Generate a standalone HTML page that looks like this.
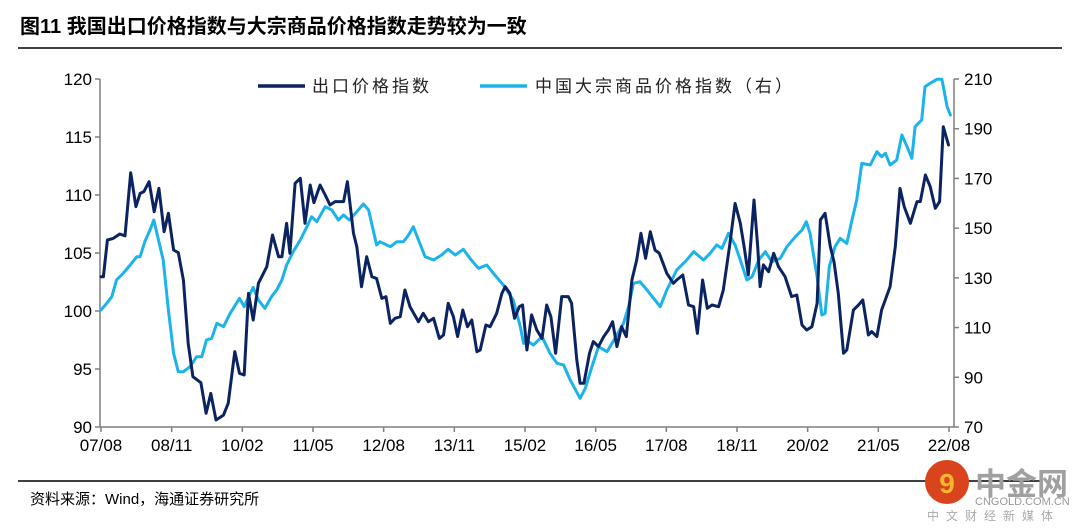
<!DOCTYPE html>
<html><head><meta charset="utf-8"><style>
body{margin:0;background:#fff;width:1080px;height:532px;overflow:hidden;font-family:"Liberation Sans","Noto Sans CJK SC",sans-serif;}
svg{display:block}
</style></head><body>
<svg width="1080" height="532" id="svg">
<text x="20" y="33" font-size="20" font-weight="bold" fill="#000" font-family="Liberation Sans, Noto Sans CJK SC, sans-serif">图11 我国出口价格指数与大宗商品价格指数走势较为一致</text>
<line x1="18" y1="48" x2="1062" y2="48" stroke="#000" stroke-width="1.5"/>
<line x1="18" y1="481" x2="1040" y2="481" stroke="#000" stroke-width="1.5"/>
<text x="30" y="504" font-size="15" fill="#000">资料来源：Wind，海通证券研究所</text>
<g id="axes"></g>
<g id="series"></g>
<g>
<line x1="258" y1="86" x2="305" y2="86" stroke="#0b2461" stroke-width="3.5"/>
<text x="312" y="92" font-size="17" letter-spacing="3" fill="#222">出口价格指数</text>
<line x1="480" y1="86" x2="527" y2="86" stroke="#1cb3ea" stroke-width="3.5"/>
<text x="535" y="92" font-size="17" letter-spacing="3" fill="#222">中国大宗商品价格指数（右）</text>
</g>
<g>
<circle cx="947" cy="482" r="22" fill="#d9441c"/>
<text x="947" y="493" font-size="28" font-weight="bold" fill="#f4b630" text-anchor="middle">9</text>
<text x="975" y="495" font-size="31" font-weight="bold" fill="#a0a0a0">中金网</text>
<text x="975" y="505" font-size="11" fill="#999">CNGOLD.COM.CN</text>
<text x="927" y="520" font-size="12" letter-spacing="7" fill="#aaa">中文财经新媒体</text>
</g>
</svg>
<script>
const xLabels=["07/08","08/11","10/02","11/05","12/08","13/11","15/02","16/05","17/08","18/11","20/02","21/05","22/08"];
const leftTicks=[90,95,100,105,110,115,120];
const rightTicks=[70,90,110,130,150,170,190,210];
const exportMonths=[0,0.5,1.35,2.6,4.0,5.1,6.3,7.4,8.3,9.1,10.2,11.3,12.3,13.4,14.3,15.4,16.4,17.5,18.5,19.5,21.2,22.3,23.3,24.4,26.0,27.0,28.4,29.4,30.4,31.3,32.3,33.4,35.2,36.4,37.7,38.4,39.4,40.1,41.2,42.3,43.3,44.4,45.2,46.5,47.6,48.6,49.7,51.5,52.3,53.6,54.3,55.3,56.4,57.5,58.5,59.6,60.5,
61.4,62.4,63.5,64.5,65.6,67.4,68.4,69.5,70.6,71.8,72.7,73.7,74.8,75.7,76.8,77.8,78.7,79.8,80.5,81.7,82.6,84.0,85.1,85.8,86.8,87.8,88.8,89.5,90.4,91.4,92.5,93.6,94.6,95.5,96.5,97.8,99.2,99.9,101.0,101.7,102.5,103.7,104.5,105.6,106.7,107.7,108.6,109.5,110.5,111.5,112.7,113.7,114.6,115.6,116.6,117.6,118.5,120.1,121.5,
122.2,123.5,124.7,125.8,126.6,127.7,128.7,129.7,131.1,132.1,133.4,134.6,135.7,136.5,137.4,138.6,139.4,139.9,140.6,141.7,142.8,143.8,145.2,146.6,147.7,148.8,149.8,150.9,152.0,152.7,153.7,154.8,155.6,156.5,157.6,158.3,159.7,160.8,161.7,162.9,163.6,164.7,165.7,167.5,168.6,169.6,170.5,171.8,173.2,173.9,175.0,176.0,177.1,178.0,178.8,179.9];
const exportValues=[102.96,102.96,106.12,106.26,106.64,106.47,111.92,108.99,110.14,110.29,111.15,108.56,110.57,106.84,108.42,105.26,105.03,102.67,97.21,94.34,93.82,91.18,92.90,90.60,91.03,92.04,96.5,94.63,94.48,101.52,99.22,102.39,103.82,106.55,104.68,104.68,107.56,104.97,111.01,111.44,107.56,110.86,109.34,110.86,110.0,109.14,109.43,109.43,111.15,106.7,105.55,102.09,104.68,102.96,102.8,101.09,101.23,
98.94,99.37,99.51,101.81,100.37,99.08,99.8,99.08,99.37,97.64,97.93,100.66,99.51,97.79,100.09,98.65,99.22,96.49,96.64,98.79,98.65,99.8,101.52,102.1,101.52,99.37,100.37,100.52,96.64,99.66,98.36,97.64,100.52,99.51,96.35,101.24,101.24,100.66,95.78,93.77,93.77,96.35,97.36,96.93,97.79,98.36,99.08,96.93,98.65,97.79,102.67,104.4,106.7,104.54,106.84,105.26,104.97,103.25,102.39,
102.67,103.1,100.52,100.37,98.07,102.67,100.23,100.52,100.37,101.81,105.55,109.28,107.56,105.55,103.1,109.57,105.55,102.1,103.97,103.39,104.97,103.82,102.96,101.24,101.38,98.79,98.36,98.65,100.66,107.85,108.42,105.55,104.25,101.52,96.35,96.64,100.09,100.52,100.95,97.93,98.22,97.79,100.09,102.1,105.55,110.57,109.0,107.56,109.43,109.43,111.72,110.72,108.85,109.43,115.89,114.31];
const commodityMonths=[0,1.2,2.3,3.3,4.7,6.2,7.6,8.3,9.3,10.4,11.2,12.2,13.2,14.3,15.4,16.4,17.5,18.9,20.3,21.4,22.4,23.5,24.6,26.0,27.4,29.4,30.4,31.3,32.3,33.4,34.8,36.2,37.3,38.4,39.4,40.8,42.3,43.7,44.7,45.8,47.6,49.0,50.4,51.5,52.7,54.3,55.7,56.8,58.5,
59.2,61.4,62.8,64.2,65.3,66.3,67.4,68.8,70.6,72.3,73.7,75.2,76.9,78.3,80.1,81.9,83.3,85.4,87.5,89.0,89.7,90.7,91.8,93.6,95.3,96.8,98.2,99.6,101.7,102.8,104.2,105.6,107.4,109.1,110.9,112.0,113.0,114.4,115.9,117.3,118.7,120.1,
122.2,124.0,125.8,127.9,129.3,130.7,131.8,133.2,134.6,135.7,137.1,138.2,139.6,141.0,142.4,144.2,145.6,147.4,148.8,149.7,150.5,152.0,153.0,153.7,154.6,155.8,156.9,158.3,159.4,160.4,161.5,163.3,164.7,165.7,166.5,167.5,168.9,170.0,171.1,172.1,172.8,174.2,174.9,176.0,177.4,178.5,179.6,180.3,181.0];
const commodityValues=[117.06,119.75,122.43,129.14,131.81,135.17,138.52,138.52,144.55,149.25,153.27,145.22,137.18,117.06,99.64,92.26,92.26,94.27,98.29,98.29,104.99,105.67,111.7,110.36,115.72,121.76,118.4,122.43,126.18,121.09,117.73,122.43,125.11,129.14,135.17,140.53,145.22,150.59,154.61,152.6,158.64,157.29,153.27,155.28,153.27,156.62,159.71,157.29,143.21,
144.55,142.54,144.55,144.55,147.24,150.59,145.22,138.52,137.18,139.19,141.47,139.19,141.47,137.85,133.83,135.17,131.81,127.12,121.09,110.36,103.65,104.32,102.98,106.34,99.64,95.61,94.94,88.9,81.53,85.55,94.27,102.31,100.3,105.67,111.7,118.4,127.79,128.46,125.11,121.76,118.4,125.11,
133.16,136.51,140.53,137.18,139.86,143.21,141.87,147.91,143.21,137.18,129.14,130.48,137.18,140.53,136.51,137.85,142.54,146.57,149.25,152.6,147.91,130.48,115.05,115.72,134.5,142.54,145.9,143.88,153.27,161.32,176.07,175.4,180.76,178.75,180.09,175.4,177.41,187.47,182.77,178.08,190.82,193.5,206.91,208.25,209.86,209.86,198.87,195.51];

const X0=101,X1=949,Y0=79,Y1=427,XL=100,XR=954;
const xs=m=>X0+(X1-X0)*m/180;
const yl=v=>Y1-(v-90)/30*(Y1-Y0);
const yr=v=>Y1-(v-70)/140*(Y1-Y0);
const NS='http://www.w3.org/2000/svg';
function mk(tag,attrs,parent){const e=document.createElementNS(NS,tag);for(const k in attrs)e.setAttribute(k,attrs[k]);parent.appendChild(e);return e;}
const ax=document.getElementById('axes');
let e;
e=mk('line',{x1:XL,y1:Y0,x2:XL,y2:Y1,stroke:'#7f7f7f','stroke-width':1.5},ax);


e=mk('line',{x1:XR,y1:Y0,x2:XR,y2:Y1,stroke:'#7f7f7f','stroke-width':1.5},ax);


e=mk('line',{x1:XL,y1:Y1,x2:XR,y2:Y1,stroke:'#7f7f7f','stroke-width':1.5},ax);


leftTicks.forEach(v=>{const y=yl(v);
 mk('line',{x1:XL-5,y1:y,x2:XL,y2:y,stroke:'#7f7f7f','stroke-width':1.5},ax);
 e=mk('text',{x:XL-8,y:y+6,'font-size':17,'text-anchor':'end',fill:'#000'},ax);e.textContent=v;
 
 });
rightTicks.forEach(v=>{const y=yr(v);
 mk('line',{x1:XR,y1:y,x2:XR+5,y2:y,stroke:'#7f7f7f','stroke-width':1.5},ax);
 e=mk('text',{x:XR+10,y:y+6,'font-size':17,fill:'#000'},ax);e.textContent=v;
 
 });
xLabels.forEach((l,i)=>{const x=xs(i*15);
 mk('line',{x1:x,y1:Y1,x2:x,y2:Y1+5,stroke:'#7f7f7f','stroke-width':1.5},ax);
 e=mk('text',{x:x,y:Y1+24,'font-size':17,'text-anchor':'middle',fill:'#000'},ax);e.textContent=l;
 
 });
const sg=document.getElementById('series');
const p1=commodityMonths.map((m,i)=>xs(m).toFixed(1)+','+yr(commodityValues[i]).toFixed(1)).join(' ');
e=mk('polyline',{points:p1,fill:'none',stroke:'#1cb3ea','stroke-width':3,'stroke-linejoin':'round','stroke-linecap':'round'},sg);


const p2=exportMonths.map((m,i)=>xs(m).toFixed(1)+','+yl(exportValues[i]).toFixed(1)).join(' ');
e=mk('polyline',{points:p2,fill:'none',stroke:'#0b2461','stroke-width':3,'stroke-linejoin':'round','stroke-linecap':'round'},sg);


</script>
</body></html>
